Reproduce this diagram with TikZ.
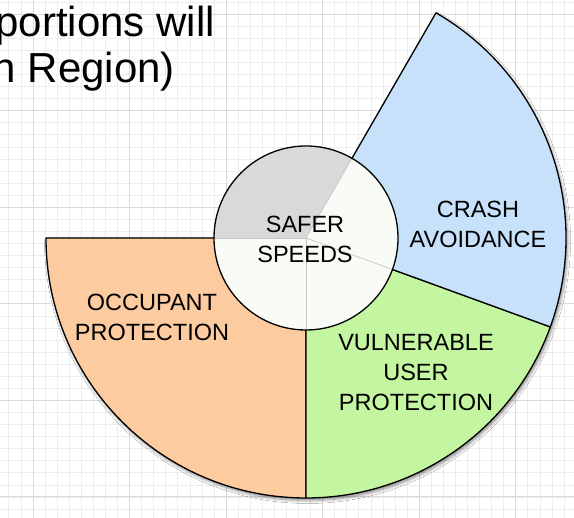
\documentclass[tikz,border=0pt]{standalone}
\usepackage{fontspec}
\setmainfont{Liberation Sans}
\usetikzlibrary{shadows.blur}

\definecolor{gridminor}{HTML}{EDEDED}
\definecolor{gridmajor}{HTML}{DADADA}
\definecolor{occupantfill}{HTML}{FCCBA0}
\definecolor{vulnerablefill}{HTML}{C4F6A2}
\definecolor{crashfill}{HTML}{C6E1F9}
\definecolor{hubfill}{HTML}{F8FBF6}
\definecolor{hubgray}{HTML}{D9D9D9}

\tikzset{
  minor line/.style={gridminor, line width=0.8pt},
  major line/.style={gridmajor, line width=1pt},
  wedge/.style={draw=black, line width=1.3pt, line join=round},
  wedge shadow/.style={fill=white,
    blur shadow={shadow xshift=1.5pt, shadow yshift=-2.5pt, shadow blur radius=3pt, shadow opacity=45}},
  sector text/.style={font=\fontsize{23.5}{30}\selectfont, align=center, text=black, inner sep=0pt},
  title text/.style={font=\fontsize{42}{46}\selectfont, text=black, inner sep=0pt, anchor=base east},
}

\begin{document}
\begin{tikzpicture}[x=1pt, y=1pt]
    \useasboundingbox (0,0) rectangle (574,518);
    \clip (0,0) rectangle (574,518);
    \fill[white] (0,0) rectangle (574,518);

    % Grid
    \foreach \i in {-3,...,45} {
        \draw[minor line] ({33+\i*12.07},0) -- ({33+\i*12.07},518);
    }
    \foreach \j in {-2,...,42} {
        \draw[minor line] (0,{21+\j*12.07}) -- (574,{21+\j*12.07});
    }
    \foreach \i in {0,...,5} {
        \draw[major line] ({33+\i*96.56},0) -- ({33+\i*96.56},518);
        \draw[major line] (0,{21+\i*96.56}) -- (574,{21+\i*96.56});
    }

    \coordinate (hub) at (306,280);

    % Shadow under the whole fan
    \path[wedge shadow] (hub) -- ++(180:260pt) arc (180:420:260pt) -- cycle;

    % Outer sectors
    \filldraw[wedge, fill=occupantfill] (hub) -- ++(180:260pt) arc (180:270:260pt) -- cycle;
    \filldraw[wedge, fill=vulnerablefill] (hub) -- ++(270:260pt) arc (270:340:260pt) -- cycle;
    \filldraw[wedge, fill=crashfill] (hub) -- ++(-20:260pt) arc (-20:60:260pt) -- cycle;

    % Inner circle
    \fill[hubfill] (hub) circle (92pt);
    \fill[hubgray] (hub) -- ++(60:92pt) arc (60:180:92pt) -- cycle;
    \foreach \a in {60,180,270,340} {
        \draw[gray!45, line width=0.7pt] (hub) -- ++(\a:92pt);
    }
    \draw[line width=1.3pt] (hub) circle (92pt);

    % Labels
    \node[sector text] (speeds) at (305,279) {SAFER\\SPEEDS};
    \node[sector text] (crash) at (478,294) {CRASH\\AVOIDANCE};
    \node[sector text] (occupant) at (152,201) {OCCUPANT\\PROTECTION};
    \node[sector text] (vulnerable) at (416,145) {VULNERABLE\\USER\\PROTECTION};

    \node[title text] (titletop) at (215,481) {portions will};
    \node[title text] (titlebottom) at (175,435) {n Region)};
\end{tikzpicture}
\end{document}
